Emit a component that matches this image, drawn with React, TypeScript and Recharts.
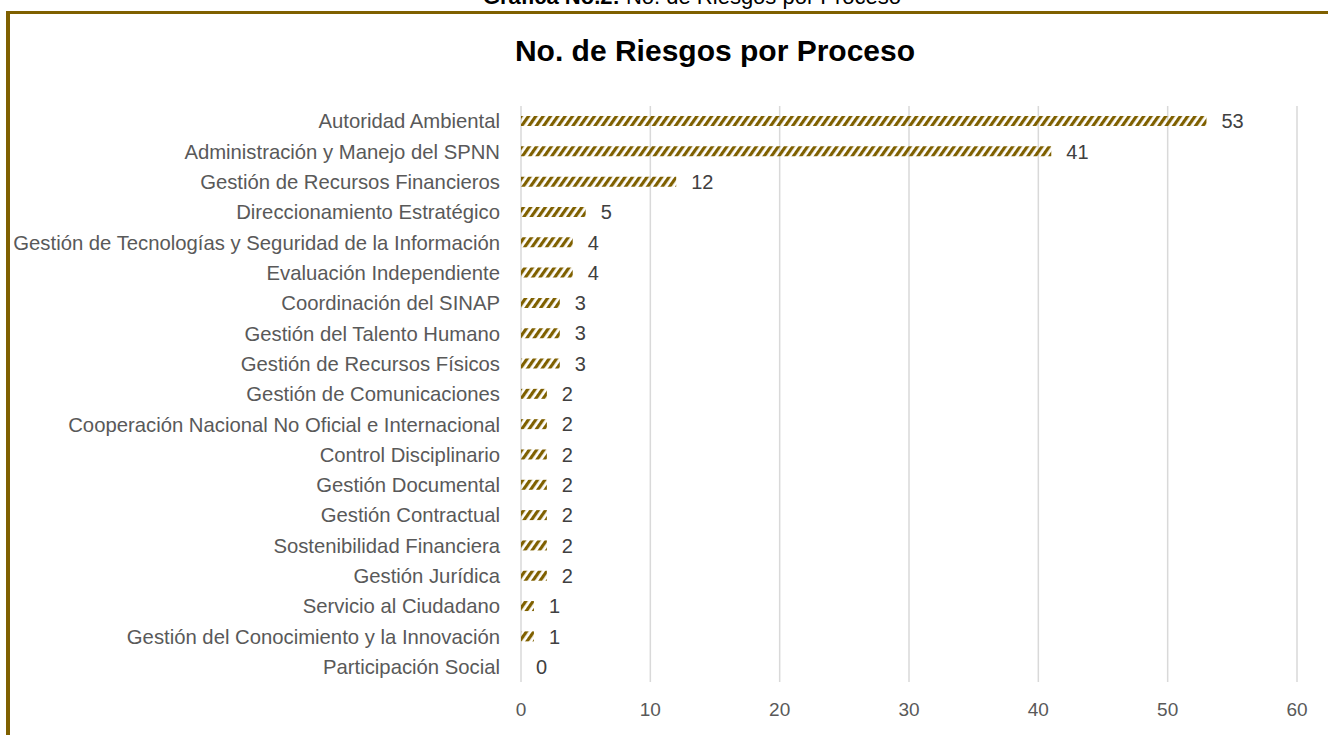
import { ComposedChart, Bar, Line, XAxis, YAxis, CartesianGrid, LabelList } from "recharts"

const procesos = [
  "Autoridad Ambiental",
  "Administración y Manejo del SPNN",
  "Gestión de Recursos Financieros",
  "Direccionamiento Estratégico ",
  "Gestión de Tecnologías y Seguridad de la Información",
  "Evaluación Independiente",
  "Coordinación del SINAP",
  "Gestión del Talento Humano",
  "Gestión de Recursos Físicos",
  "Gestión de Comunicaciones ",
  "Cooperación Nacional No Oficial e Internacional",
  "Control Disciplinario",
  "Gestión Documental",
  "Gestión Contractual",
  "Sostenibilidad Financiera",
  "Gestión Jurídica",
  "Servicio al Ciudadano",
  "Gestión del Conocimiento y la Innovación",
  "Participación Social",
]

const riesgos = [53, 41, 12, 5, 4, 4, 3, 3, 3, 2, 2, 2, 2, 2, 2, 2, 1, 1, 0]

const xTicks = [0, 10, 20, 30, 40, 50, 60]

const data = procesos.map((proceso, i) => ({ proceso, riesgos: riesgos[i] }))

const dorado = "#7F6000"
const fuente = "'Liberation Sans', Arial, sans-serif"

export default function App() {
  return (
    <div style={{ position: "absolute", left: 0, top: 0, width: 1328, height: 735, overflow: "hidden", background: "#fff", fontFamily: fuente }}>
      <svg width={0} height={0} style={{ position: "absolute" }}>
        <defs>
          <pattern id="rayas" width={6} height={6} patternUnits="userSpaceOnUse" patternTransform="rotate(35)">
            <rect x={0} y={0} width={3.2} height={6} fill={dorado} />
          </pattern>
        </defs>
      </svg>

      {/* caption, cut off at the top of the page like in the source */}
      <div style={{ position: "absolute", top: -14, left: 0, width: 1384, textAlign: "center", fontSize: 22, lineHeight: "22px", color: "#000" }}>
        <b>Gráfica No.2:</b> No. de Riesgos por Proceso
      </div>

      {/* frame */}
      <div style={{ position: "absolute", top: 11, left: 6, right: 0, height: 3, background: dorado }} />
      <div style={{ position: "absolute", top: 11, left: 6, bottom: 0, width: 4, background: dorado }} />

      <div style={{ position: "absolute", top: 36, left: 0, width: 1430, textAlign: "center", fontSize: 30, lineHeight: "30px", fontWeight: "bold", color: "#000" }}>
        No. de Riesgos por Proceso
      </div>

      <div style={{ position: "absolute", left: 0, top: 0 }}>
        <ComposedChart
          width={1328}
          height={735}
          data={data}
          layout="vertical"
          margin={{ top: 106, right: 31, bottom: 0, left: 0 }}
        >
          <CartesianGrid horizontal={false} stroke="#d9d9d9" strokeWidth={1.5} />
          <XAxis
            type="number"
            domain={[0, 60]}
            ticks={xTicks}
            axisLine={false}
            tickLine={false}
            tickMargin={15}
            height={53}
            tick={{ fill: "#595959", fontSize: 19, fontFamily: fuente }}
          />
          <YAxis
            type="category"
            dataKey="proceso"
            width={521}
            interval={0}
            axisLine={false}
            tickLine={false}
            tickMargin={15}
            tick={{ fill: "#595959", fontSize: 20.3, fontFamily: fuente }}
          />
          <Bar dataKey="riesgos" fill="url(#rayas)" barSize={10} isAnimationActive={false} />
          {/* invisible line only carries the value labels (zero included) */}
          <Line dataKey="riesgos" stroke="none" dot={false} activeDot={false} isAnimationActive={false}>
            <LabelList dataKey="riesgos" position="right" offset={15} fill="#404040" fontSize={20} fontFamily={fuente} />
          </Line>
        </ComposedChart>
      </div>
    </div>
  )
}
